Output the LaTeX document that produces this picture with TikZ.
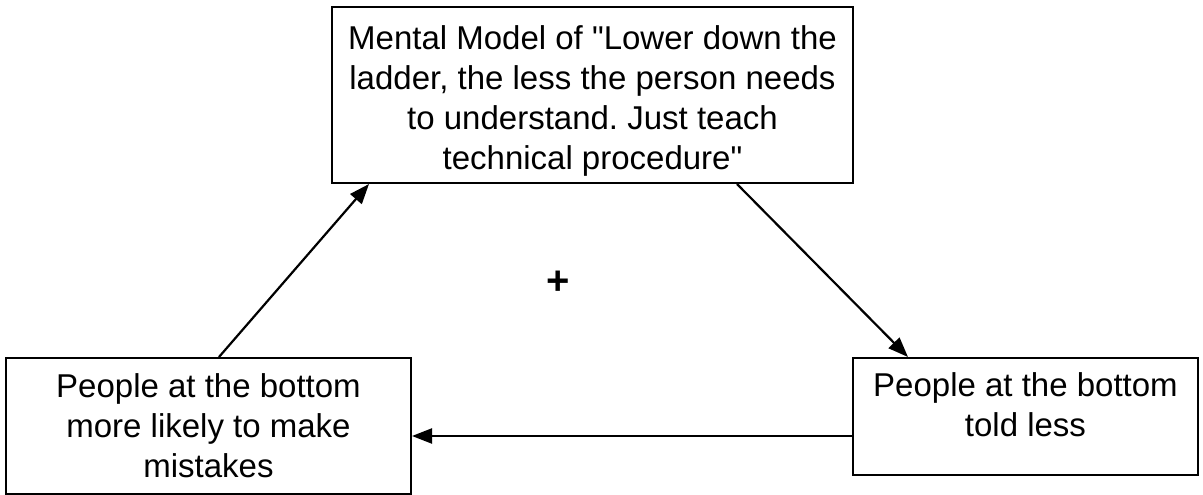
\documentclass[tikz,border=0pt]{standalone}
\usepackage{fontspec}
\setmainfont{Liberation Sans}[Ligatures=TeXOff]
\usetikzlibrary{arrows.meta,calc}
\frenchspacing
\begin{document}
\begin{tikzpicture}[x=1pt,y=-1pt,
  box/.style={draw, line width=2pt, inner sep=0pt, align=center,
    font=\fontsize{33}{40}\selectfont\frenchspacing},
  arr/.style={line width=2.2pt, -{Triangle[length=20pt,width=15pt]}}]
\useasboundingbox (0,0) rectangle (1203,495);
\node[box, minimum width=521pt, minimum height=176pt] (tb) at (592.5,95)
  {\parbox{500pt}{\vspace*{12pt}\centering Mental Model of "Lower down the\\ladder, the less the person needs\\to understand. Just teach\\technical procedure"}};
\node[box, minimum width=405pt, minimum height=136pt] (lb) at (208.5,426)
  {People at the bottom\\more likely to make\\mistakes};
\node[box, minimum width=345pt, minimum height=117pt] (rb) at (1025.5,416.5)
  {People at the bottom\\told less\\[-17pt]\mbox{}};
\node[font=\bfseries\fontsize{40}{40}\selectfont] (plus) at (558,283) {+};
\draw[arr] ([xshift=214pt]lb.north west) -- ([xshift=38pt]tb.south west);
\draw[arr] ([xshift=406pt]tb.south west) -- ([xshift=56pt]rb.north west);
\coordinate (hs) at ([yshift=-19.5pt]rb.west);
\draw[arr] (hs) -- (lb.east |- hs);
\end{tikzpicture}
\end{document}
